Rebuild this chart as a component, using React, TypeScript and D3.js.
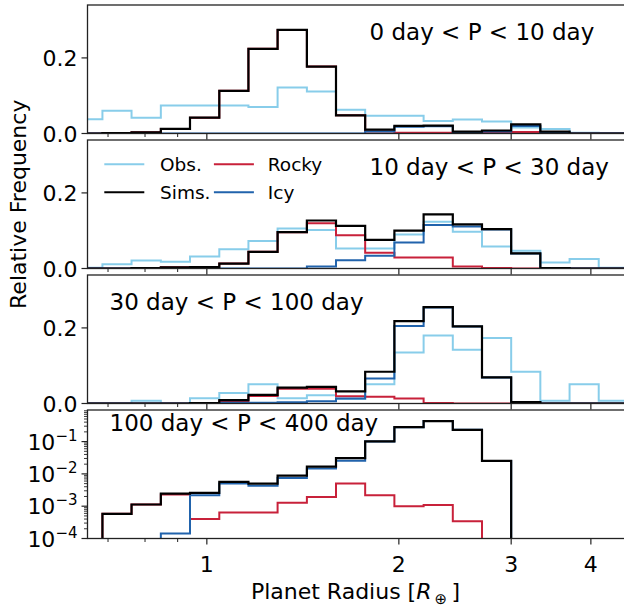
import * as d3 from "d3";

// shared radius bins (log spaced)
const binEdges = [0.618, 0.686, 0.762, 0.847, 0.941, 1.046, 1.162, 1.291, 1.435, 1.594, 1.771, 1.968, 2.187, 2.43, 2.7, 3.0, 3.333, 3.704, 4.115, 4.572];

const panelLabels = ["0 day < P < 10 day", "10 day < P < 30 day", "30 day < P < 100 day", "100 day < P < 400 day"];

// 0 - 10 day
const obs1 = [0.038, 0.06, 0.042, 0.074, 0.074, 0.074, 0.07, 0.122, 0.111, 0.063, 0.047, 0.047, 0.033, 0.037, 0.032, 0.016, 0.012, 0.002, 0.001];
const sims1 = [0, 0.001, 0.003, 0.012, 0.042, 0.113, 0.224, 0.274, 0.177, 0.048, 0.01, 0.02, 0.021, 0.005, 0.008, 0.024, 0.005, 0, 0];
const rocky1 = [0, 0.001, 0.003, 0.012, 0.042, 0.113, 0.224, 0.274, 0.177, 0.048, 0.005, 0.002, 0.002, 0.002, 0.003, 0.004, 0.002, 0, 0];
const icy1 = [0, 0, 0, 0, 0, 0, 0, 0, 0, 0, 0.005, 0.018, 0.019, 0.003, 0.005, 0.02, 0.003, 0, 0];

// 10 - 30 day
const obs2 = [0.002, 0.011, 0.021, 0.018, 0.032, 0.051, 0.073, 0.106, 0.102, 0.053, 0.053, 0.09, 0.124, 0.097, 0.058, 0.047, 0.016, 0.025, 0.002];
const sims2 = [0, 0, 0.001, 0.003, 0.004, 0.013, 0.044, 0.096, 0.127, 0.113, 0.076, 0.1, 0.143, 0.117, 0.104, 0.04, 0.001, 0, 0];
const rocky2 = [0, 0, 0.001, 0.003, 0.004, 0.013, 0.044, 0.096, 0.12, 0.088, 0.042, 0.029, 0.029, 0.005, 0.001, 0, 0, 0, 0];
const icy2 = [0, 0, 0, 0, 0, 0, 0, 0, 0.005, 0.022, 0.034, 0.069, 0.115, 0.111, 0.103, 0.04, 0.001, 0, 0];

// 30 - 100 day
const obs3 = [0, 0, 0.007, 0, 0.014, 0.028, 0.051, 0.014, 0.022, 0.012, 0.051, 0.135, 0.18, 0.142, 0.173, 0.084, 0.007, 0.051, 0.007];
const sims3 = [0, 0, 0, 0, 0.001, 0.009, 0.023, 0.042, 0.044, 0.032, 0.084, 0.218, 0.255, 0.204, 0.069, 0.004, 0, 0, 0];
const rocky3 = [0, 0, 0, 0, 0.001, 0.006, 0.02, 0.039, 0.039, 0.019, 0.018, 0.013, 0.001, 0, 0, 0, 0, 0, 0];
const icy3 = [0, 0, 0, 0, 0, 0.002, 0.002, 0.003, 0.006, 0.013, 0.066, 0.205, 0.254, 0.204, 0.069, 0.004, 0, 0, 0];

// 100 - 400 day (log axis)
const sims4 = [0, 5.8e-4, 1.13e-3, 2.45e-3, 2.6e-3, 5.7e-3, 5.0e-3, 8.8e-3, 0.0168, 0.0306, 0.102, 0.279, 0.431, 0.231, 0.0252, 0, 0, 0, 0];
const rocky4 = [0, 5.8e-4, 1.13e-3, 2.3e-3, 4.0e-4, 6.4e-4, 6.4e-4, 1.28e-3, 1.93e-3, 5.0e-3, 2.17e-3, 1.0e-3, 1.08e-3, 3.4e-4, 0, 0, 0, 0, 0];
const icy4 = [0, 0, 0, 1.44e-4, 2.2e-3, 5.0e-3, 4.3e-3, 7.5e-3, 0.0148, 0.0256, 0.0999, 0.278, 0.43, 0.231, 0.0252, 0, 0, 0, 0];

const xMajor = [1, 2, 3, 4];
const xMinor = [0.7, 0.8, 0.9];
const linTicks = [0, 0.2];
const logTicks = [1e-4, 1e-3, 1e-2, 1e-1];

const C_OBS = "#88cdea";
const C_SIMS = "#000000";
const C_ROCKY = "#c8213a";
const C_ICY = "#2163ac";

const W = 624;
const H = 608;
const left = 87.5;
const right = 623.5;
const panelTops = [5, 140, 275, 410];
const ph = 128.5;
const FONT = "DejaVu Sans, sans-serif";

const x = d3.scaleLog().domain([0.65, 4.5]).range([left, right]);

function stepPath(vals: number[], y: (v: number) => number, floor: number) {
  const pts: [number, number][] = [[x(binEdges[0]), floor]];
  vals.forEach((v, i) => {
    pts.push([x(binEdges[i]), y(v)]);
    pts.push([x(binEdges[i + 1]), y(v)]);
  });
  pts.push([x(binEdges[binEdges.length - 1]), floor]);
  return d3.line()(pts) || "";
}

function Panel({ idx, obs, sims, rocky, icy, log }: any) {
  const top = panelTops[idx];
  const bottom = top + ph;
  const y: any = log
    ? d3.scaleLog().domain([1e-4, 0.95]).range([bottom, top])
    : d3.scaleLinear().domain([0, 0.34]).range([bottom, top]);
  const yy = (v: number) => (log ? (v > 0 ? y(v) : bottom + 20) : y(v));
  const floor = log ? bottom + 20 : bottom;
  const clipId = `clip${idx}`;
  const series = [
    { v: obs, c: C_OBS, w: 2 },
    { v: rocky, c: C_ROCKY, w: 2 },
    { v: icy, c: C_ICY, w: 2 },
    { v: sims, c: C_SIMS, w: 2.2 },
  ].filter((s) => s.v);

  const yMinor: number[] = [];
  if (log) {
    [1e-4, 1e-3, 1e-2, 1e-1].forEach((d) => {
      for (let k = 2; k <= 9; k++) if (d * k <= 0.95) yMinor.push(d * k);
    });
  }

  return (
    <g>
      <defs>
        <clipPath id={clipId}>
          <rect x={left} y={top} width={W - left} height={ph} />
        </clipPath>
      </defs>
      <g clipPath={`url(#${clipId})`}>
        {series.map((s, i) => (
          <path key={i} d={stepPath(s.v, yy, floor)} fill="none" stroke={s.c} strokeWidth={s.w} strokeLinejoin="miter" />
        ))}
      </g>
      {/* frame runs past the right edge of the picture */}
      <rect x={left} y={top} width={W + 4 - left} height={ph} fill="none" stroke="#222" strokeWidth={1.3} />
      {xMajor.map((t) => (
        <line key={"M" + t} x1={x(t)} x2={x(t)} y1={bottom} y2={bottom + 6} stroke="#222" strokeWidth={1.2} />
      ))}
      {xMinor.map((t) => (
        <line key={"m" + t} x1={x(t)} x2={x(t)} y1={bottom} y2={bottom + 3.5} stroke="#222" strokeWidth={1} />
      ))}
      {!log &&
        linTicks.map((t) => (
          <g key={t}>
            <line x1={left - 6} x2={left} y1={y(t)} y2={y(t)} stroke="#222" strokeWidth={1.2} />
            <text x={left - 10} y={y(t) + 8} textAnchor="end" fontSize={22} fontFamily={FONT}>
              {t.toFixed(1)}
            </text>
          </g>
        ))}
      {log &&
        logTicks.map((t) => (
          <g key={t}>
            <line x1={left - 6} x2={left} y1={y(t)} y2={y(t)} stroke="#222" strokeWidth={1.2} />
            <text x={left - 10} y={y(t) + 8} textAnchor="end" fontSize={22} fontFamily={FONT}>
              10
              <tspan dy={-9} fontSize={15}>
                {"\u2212" + Math.round(-Math.log10(t))}
              </tspan>
            </text>
          </g>
        ))}
      {yMinor.map((t, i) => (
        <line key={"ym" + i} x1={left - 3.5} x2={left} y1={y(t)} y2={y(t)} stroke="#222" strokeWidth={0.9} />
      ))}
    </g>
  );
}

export default function App() {
  const labelPos = [
    [369.5, 39.5],
    [369.5, 174.5],
    [109.5, 309.5],
    [109.5, 431],
  ];
  const legendItems = [
    { label: "Obs.", c: C_OBS, lx: 104.3, tx: 160, y: 164.3 },
    { label: "Sims.", c: C_SIMS, lx: 104.3, tx: 160, y: 192.3 },
    { label: "Rocky", c: C_ROCKY, lx: 213.9, tx: 267.8, y: 164.3 },
    { label: "Icy", c: C_ICY, lx: 213.9, tx: 267.8, y: 192.3 },
  ];
  const bottomAxis = panelTops[3] + ph;
  return (
    <div style={{ position: "absolute", left: 0, top: 0 }}>
      <svg width={W} height={H} style={{ display: "block", background: "#fff" }}>
        <Panel idx={0} obs={obs1} sims={sims1} rocky={rocky1} icy={icy1} />
        <Panel idx={1} obs={obs2} sims={sims2} rocky={rocky2} icy={icy2} />
        <Panel idx={2} obs={obs3} sims={sims3} rocky={rocky3} icy={icy3} />
        <Panel idx={3} sims={sims4} rocky={rocky4} icy={icy4} log />

        {panelLabels.map((l, i) => (
          <text key={l} x={labelPos[i][0]} y={labelPos[i][1]} fontSize={23} fontFamily={FONT}>
            {l}
          </text>
        ))}

        {legendItems.map((d) => (
          <g key={d.label}>
            <line x1={d.lx} x2={d.lx + 40} y1={d.y} y2={d.y} stroke={d.c} strokeWidth={2} />
            <text x={d.tx} y={d.y + 6.5} fontSize={18.5} fontFamily={FONT}>
              {d.label}
            </text>
          </g>
        ))}

        {xMajor.map((t) => (
          <text key={t} x={x(t)} y={bottomAxis + 33} textAnchor="middle" fontSize={22} fontFamily={FONT}>
            {t}
          </text>
        ))}

        <text x={(left + right) / 2} y={599} textAnchor="middle" fontSize={22} fontFamily={FONT}>
          Planet Radius [<tspan fontStyle="italic">R</tspan>
          <tspan dy={5} fontSize={15}>{"\u2009\u2295"}</tspan>
          <tspan dy={-5}>{"\u2009]"}</tspan>
        </text>

        <text
          transform={`translate(26,${panelTops[1] + ph / 2}) rotate(-90)`}
          textAnchor="middle"
          fontSize={22}
          fontFamily={FONT}
        >
          Relative Frequency
        </text>
      </svg>
    </div>
  );
}
